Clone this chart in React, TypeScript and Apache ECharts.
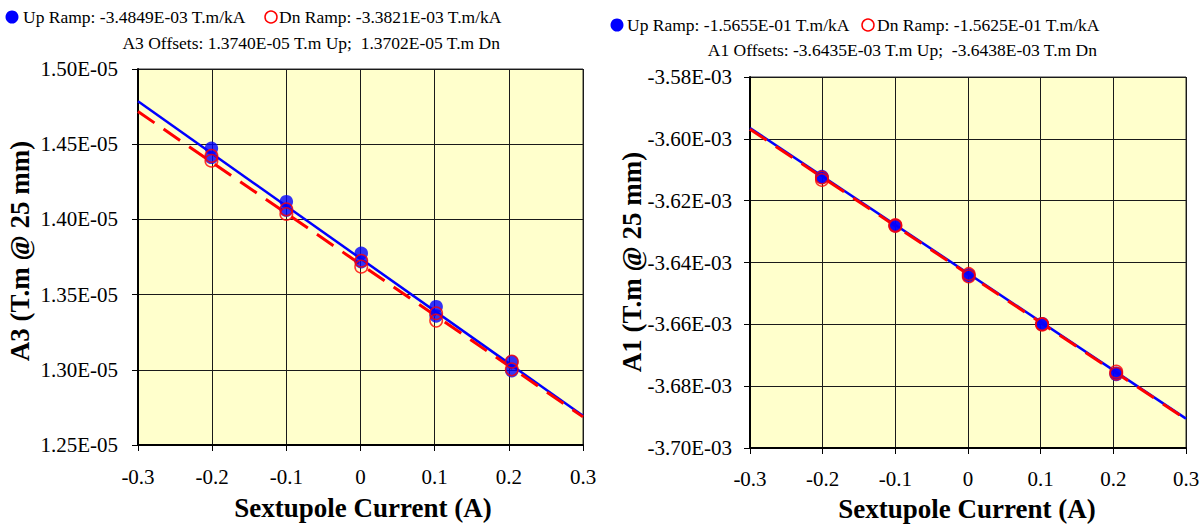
import React, { useEffect, useRef } from "react";
import * as echarts from "echarts";

// ---- data ----
const currentsX = [-0.201, -0.201, -0.1, -0.1, 0.001, 0.001, 0.102, 0.102, 0.204, 0.204];

const a3Up = [1.4473e-5, 1.4413e-5, 1.4118e-5, 1.4062e-5, 1.3775e-5, 1.3719e-5, 1.342e-5, 1.3358e-5, 1.3054e-5, 1.2994e-5];
const a3Dn = [1.4422e-5, 1.439e-5, 1.4067e-5, 1.4036e-5, 1.3725e-5, 1.3686e-5, 1.3376e-5, 1.3327e-5, 1.3054e-5, 1.3003e-5];
const a3UpFit = [[-0.3, 1.4785e-5], [0.3, 1.2695e-5]];
const a3DnFit = [[-0.3, 1.4717e-5], [0.3, 1.2687e-5]];

const a1Up = [-3.6122e-3, -3.6125e-3, -3.628e-3, -3.6281e-3, -3.6443e-3, -3.644e-3, -3.66e-3, -3.6598e-3, -3.6762e-3, -3.6758e-3];
const a1Dn = [-3.6125e-3, -3.6133e-3, -3.6279e-3, -3.6282e-3, -3.6437e-3, -3.6445e-3, -3.6599e-3, -3.6601e-3, -3.6753e-3, -3.676e-3];
const a1UpFit = [[-0.3, -3.5965e-3], [0.3, -3.6905e-3]];
const a1DnFit = [[-0.3, -3.5969e-3], [0.3, -3.6907e-3]];

const leftUpLabel = "Up Ramp: -3.4849E-03 T.m/kA";
const leftDnLabel = "Dn Ramp: -3.3821E-03 T.m/kA";
const leftOffsets = "A3 Offsets: 1.3740E-05 T.m Up;  1.3702E-05 T.m Dn";
const rightUpLabel = "Up Ramp: -1.5655E-01 T.m/kA";
const rightDnLabel = "Dn Ramp: -1.5625E-01 T.m/kA";
const rightOffsets = "A1 Offsets: -3.6435E-03 T.m Up;  -3.6438E-03 T.m Dn";
const xName = "Sextupole Current (A)";
const leftYName = "A3 (T.m @ 25 mm)";
const rightYName = "A1 (T.m @ 25 mm)";

const FONT = "'Liberation Serif', 'Times New Roman', serif";

const sci = (v: number) => {
  const [m, e] = v.toExponential(2).split("e");
  const n = parseInt(e, 10);
  return m + "E" + (n < 0 ? "-" : "+") + String(Math.abs(n)).padStart(2, "0");
};
const xFmt = (v: number) => {
  const r = Math.round(v * 10) / 10;
  return r === 0 ? "0" : String(r);
};

const pairs = (xs: number[], ys: number[]) => xs.map((x, i) => [x, ys[i]]);

export default function App() {
  const ref = useRef<HTMLDivElement>(null);
  useEffect(() => {
    if (!ref.current) return;
    const chart = echarts.init(ref.current, null, { renderer: "svg" });
    const xAxisBase = (gridIndex: number, margin: number) => ({
      type: "value",
      gridIndex,
      min: -0.3,
      max: 0.3,
      interval: 0.1,
      axisLine: { onZero: false, lineStyle: { color: "#000", width: 2 } },
      axisTick: { show: true, length: 6, lineStyle: { color: "#000", width: 1 } },
      axisLabel: { formatter: xFmt, color: "#000", fontFamily: FONT, fontSize: 21, margin },
      splitLine: { show: true, lineStyle: { color: "#1a1a1a", width: 1 } },
    });
    const yAxisBase = (gridIndex: number, min: number, max: number, interval: number, margin: number) => ({
      type: "value",
      gridIndex,
      min,
      max,
      interval,
      axisLine: { onZero: false, lineStyle: { color: "#000", width: 2 } },
      axisTick: { show: true, length: 6, lineStyle: { color: "#000", width: 1 } },
      axisLabel: { formatter: sci, color: "#000", fontFamily: FONT, fontSize: 21, margin },
      splitLine: { show: true, lineStyle: { color: "#1a1a1a", width: 1 } },
    });
    const upScatter = (i: number, data: number[][]) => ({
      type: "scatter",
      xAxisIndex: i,
      yAxisIndex: i,
      data,
      symbol: "circle",
      symbolSize: 13.5,
      itemStyle: { color: "#0000ff" },
      z: 4,
    });
    const dnScatter = (i: number, data: number[][]) => ({
      type: "scatter",
      xAxisIndex: i,
      yAxisIndex: i,
      data,
      symbol: "circle",
      symbolSize: 12.5,
      itemStyle: { color: "rgba(0,0,0,0)", borderColor: "#ff0000", borderWidth: 1.5 },
      z: 5,
    });
    const fitLine = (i: number, data: number[][], color: string, dashed: boolean) => ({
      type: "line",
      xAxisIndex: i,
      yAxisIndex: i,
      data,
      symbol: "none",
      lineStyle: { color, width: dashed ? 3 : 2.5, type: dashed ? [20, 11] : "solid" },
      z: dashed ? 3 : 2,
    });
    const txt = (x: number, y: number, text: string, align: string, size = 17.5, bold = false, rotation = 0) => ({
      type: "text",
      x,
      y,
      rotation,
      style: {
        text,
        fill: "#000",
        font: `${bold ? "bold " : ""}${size}px ${FONT}`,
        align,
        verticalAlign: "middle",
      },
      z: 10,
    });
    chart.setOption({
      animation: false,
      backgroundColor: "#fff",
      grid: [
        { left: 138, top: 69, width: 445, height: 376, show: true, backgroundColor: "#FFFFCC", borderColor: "#333", borderWidth: 1 },
        { left: 750, top: 77, width: 436, height: 371, show: true, backgroundColor: "#FFFFCC", borderColor: "#333", borderWidth: 1 },
      ],
      xAxis: [xAxisBase(0, 21), xAxisBase(1, 20)],
      yAxis: [
        yAxisBase(0, 1.25e-5, 1.5e-5, 0.05e-5, 20),
        yAxisBase(1, -3.7e-3, -3.58e-3, 0.02e-3, 18),
      ],
      series: [
        fitLine(0, a3UpFit, "#0000ff", false),
        fitLine(0, a3DnFit, "#ff0000", true),
        upScatter(0, pairs(currentsX, a3Up)),
        dnScatter(0, pairs(currentsX, a3Dn)),
        fitLine(1, a1UpFit, "#0000ff", false),
        fitLine(1, a1DnFit, "#ff0000", true),
        upScatter(1, pairs(currentsX, a1Up)),
        dnScatter(1, pairs(currentsX, a1Dn)),
      ],
      graphic: [
        { type: "circle", shape: { cx: 12, cy: 17, r: 6.5 }, style: { fill: "#0000ff" } },
        txt(23, 17, leftUpLabel, "left"),
        { type: "circle", shape: { cx: 271, cy: 17, r: 6 }, style: { fill: "none", stroke: "#ff0000", lineWidth: 1.5 } },
        txt(279, 17, leftDnLabel, "left"),
        txt(500, 43, leftOffsets, "right"),
        { type: "circle", shape: { cx: 617, cy: 25, r: 6.5 }, style: { fill: "#0000ff" } },
        txt(627, 25, rightUpLabel, "left"),
        { type: "circle", shape: { cx: 868, cy: 25, r: 6 }, style: { fill: "none", stroke: "#ff0000", lineWidth: 1.5 } },
        txt(877, 25, rightDnLabel, "left"),
        txt(1097, 50, rightOffsets, "right"),
        txt(363, 508, xName, "center", 27, true),
        txt(967, 509, xName, "center", 27, true),
        txt(20, 251, leftYName, "center", 27, true, Math.PI / 2),
        txt(632, 262, rightYName, "center", 27, true, Math.PI / 2),
      ],
    });
    return () => chart.dispose();
  }, []);
  return <div ref={ref} style={{ position: "absolute", left: 0, top: 0, width: 1204, height: 525 }} />;
}
